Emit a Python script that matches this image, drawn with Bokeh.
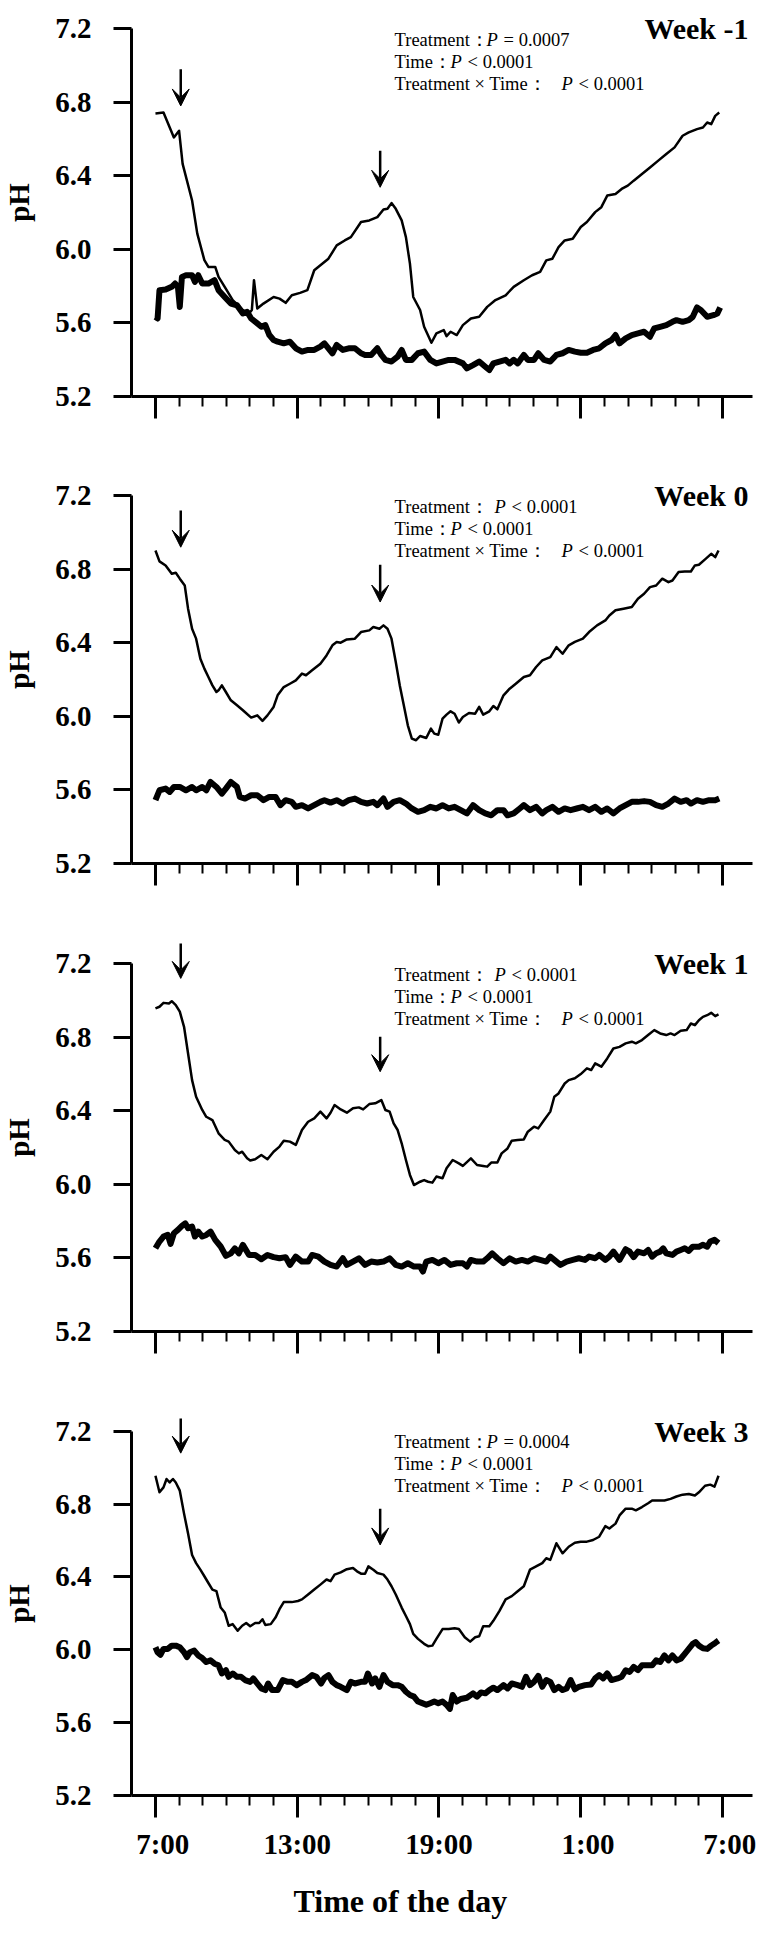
from bokeh.plotting import figure
from bokeh.layouts import column
from bokeh.models import (Range1d, FixedTicker, NumeralTickFormatter, CustomJSTickFormatter,
                          Label, Arrow, VeeHead, Title)
from bokeh.embed import file_html
from bokeh.resources import INLINE

# ---------------- data ----------------
week_names = ["Week -1", "Week 0", "Week 1", "Week 3"]
y_ticks = [5.2, 5.6, 6.0, 6.4, 6.8, 7.2]
x_tick_hours = [0, 6, 12, 18, 24]          # hours after 7:00
x_tick_labels = ["7:00", "13:00", "19:00", "1:00", "7:00"]
x_minor_hours = [h for h in range(25) if h % 6]
x_title = "Time of the day"
y_title = "pH"

# Week -1
wm1_thin_h = [0.00, 0.34, 0.78, 1.00, 1.15, 1.55, 1.77, 2.07, 2.24, 2.53, 2.67, 2.93, 3.27, 3.70, 3.96, 4.08, 4.17, 4.31, 4.57, 5.00,
              5.25, 5.51, 5.77, 6.12, 6.43, 6.72, 6.98, 7.32, 7.67, 8.01, 8.27, 8.70, 9.05, 9.39, 9.65, 9.82, 9.99, 10.17, 10.42, 10.60,
              10.77, 10.91, 11.20, 11.37, 11.68, 11.89, 12.20, 12.32, 12.49, 12.75, 13.01, 13.35, 13.70, 14.04, 14.39, 14.82, 15.16, 15.59, 15.94, 16.28,
              16.54, 16.80, 17.06, 17.32, 17.66, 18.00, 18.26, 18.61, 18.87, 19.12, 19.47, 19.73, 19.99, 20.24, 20.59, 20.93, 21.28, 21.62, 21.97, 22.31,
              22.57, 22.92, 23.17, 23.35, 23.52, 23.69, 23.86]
wm1_thin_ph = [6.738, 6.743, 6.608, 6.644, 6.464, 6.265, 6.085, 5.941, 5.904, 5.904, 5.850, 5.796, 5.724, 5.670, 5.651, 5.670, 5.832, 5.678, 5.705, 5.741,
               5.732, 5.709, 5.750, 5.763, 5.778, 5.886, 5.913, 5.949, 6.021, 6.048, 6.066, 6.148, 6.157, 6.175, 6.216, 6.220, 6.251, 6.220, 6.157, 6.066,
               5.922, 5.741, 5.670, 5.579, 5.492, 5.543, 5.561, 5.528, 5.552, 5.534, 5.588, 5.624, 5.633, 5.687, 5.724, 5.750, 5.796, 5.832, 5.859, 5.877,
               5.940, 5.949, 6.012, 6.048, 6.057, 6.121, 6.148, 6.202, 6.229, 6.292, 6.301, 6.328, 6.346, 6.373, 6.409, 6.445, 6.482, 6.518, 6.554, 6.617,
               6.635, 6.653, 6.662, 6.689, 6.680, 6.725, 6.743]
wm1_thick_h = [0.00, 0.09, 0.17, 0.43, 0.69, 0.83, 0.95, 1.03, 1.12, 1.29, 1.55, 1.67, 1.81, 1.98, 2.24, 2.50, 2.67, 2.93, 3.19, 3.45,
               3.70, 3.88, 4.05, 4.31, 4.48, 4.65, 4.82, 5.00, 5.17, 5.43, 5.69, 5.94, 6.20, 6.46, 6.72, 6.98, 7.15, 7.32, 7.49, 7.67,
               7.93, 8.18, 8.44, 8.70, 8.87, 9.13, 9.39, 9.56, 9.73, 9.99, 10.25, 10.42, 10.60, 10.85, 11.11, 11.37, 11.63, 11.89, 12.15, 12.41,
               12.66, 13.01, 13.18, 13.44, 13.70, 13.96, 14.13, 14.30, 14.56, 14.82, 14.99, 15.16, 15.33, 15.59, 15.76, 16.02, 16.20, 16.45, 16.71, 16.97,
               17.23, 17.49, 17.75, 18.00, 18.26, 18.52, 18.78, 19.04, 19.30, 19.47, 19.64, 19.90, 20.16, 20.42, 20.68, 20.93, 21.11, 21.36, 21.62, 21.88,
               22.05, 22.31, 22.57, 22.74, 22.92, 23.09, 23.35, 23.61, 23.78, 23.90]
wm1_thick_ph = [5.633, 5.624, 5.778, 5.781, 5.796, 5.814, 5.796, 5.687, 5.850, 5.859, 5.859, 5.823, 5.859, 5.814, 5.814, 5.832, 5.778, 5.741, 5.705, 5.696,
                5.651, 5.660, 5.624, 5.597, 5.579, 5.588, 5.534, 5.507, 5.498, 5.489, 5.498, 5.462, 5.444, 5.453, 5.453, 5.471, 5.489, 5.462, 5.435, 5.480,
                5.453, 5.462, 5.462, 5.435, 5.426, 5.426, 5.462, 5.426, 5.399, 5.390, 5.417, 5.453, 5.399, 5.399, 5.435, 5.444, 5.399, 5.380, 5.390, 5.399,
                5.399, 5.380, 5.353, 5.371, 5.390, 5.362, 5.344, 5.380, 5.390, 5.399, 5.380, 5.399, 5.380, 5.426, 5.399, 5.399, 5.435, 5.399, 5.390, 5.426,
                5.435, 5.453, 5.444, 5.438, 5.438, 5.453, 5.462, 5.489, 5.507, 5.534, 5.489, 5.516, 5.534, 5.543, 5.552, 5.525, 5.570, 5.579, 5.588, 5.606,
                5.615, 5.606, 5.615, 5.633, 5.684, 5.669, 5.633, 5.642, 5.651, 5.684]

# Week 0
w0_thin_h = [0.00, 0.17, 0.43, 0.69, 0.86, 1.03, 1.24, 1.38, 1.55, 1.72, 1.90, 2.07, 2.24, 2.41, 2.58, 2.67, 2.81, 2.98, 3.19, 3.45,
             3.70, 4.05, 4.31, 4.53, 4.74, 5.00, 5.17, 5.43, 5.69, 5.94, 6.20, 6.37, 6.63, 6.98, 7.24, 7.49, 7.67, 7.84, 8.10, 8.44,
             8.70, 9.05, 9.22, 9.48, 9.65, 9.82, 9.99, 10.17, 10.34, 10.51, 10.68, 10.85, 11.03, 11.20, 11.46, 11.66, 11.80, 11.97, 12.15, 12.32,
             12.49, 12.66, 12.84, 13.01, 13.27, 13.53, 13.70, 13.87, 14.13, 14.30, 14.47, 14.73, 14.99, 15.25, 15.59, 15.85, 16.11, 16.37, 16.71, 16.97,
             17.23, 17.49, 17.75, 18.09, 18.35, 18.69, 19.04, 19.21, 19.47, 19.81, 20.16, 20.42, 20.68, 20.93, 21.19, 21.45, 21.71, 21.88, 22.14, 22.40,
             22.66, 22.83, 23.00, 23.26, 23.52, 23.69, 23.83]
w0_thin_ph = [6.901, 6.842, 6.820, 6.775, 6.780, 6.748, 6.711, 6.585, 6.476, 6.422, 6.313, 6.259, 6.214, 6.168, 6.132, 6.141, 6.168, 6.132, 6.087, 6.060,
              6.033, 5.993, 6.005, 5.975, 6.005, 6.051, 6.114, 6.159, 6.177, 6.195, 6.232, 6.223, 6.250, 6.286, 6.331, 6.386, 6.404, 6.400, 6.418, 6.422,
              6.458, 6.467, 6.485, 6.476, 6.494, 6.476, 6.422, 6.295, 6.168, 6.060, 5.951, 5.879, 5.870, 5.893, 5.882, 5.933, 5.906, 5.900, 5.987, 6.009,
              6.027, 6.014, 5.966, 5.996, 6.018, 6.014, 6.051, 6.009, 6.027, 6.056, 6.038, 6.114, 6.150, 6.177, 6.214, 6.223, 6.268, 6.304, 6.322, 6.376,
              6.340, 6.386, 6.404, 6.422, 6.458, 6.494, 6.521, 6.548, 6.576, 6.585, 6.594, 6.639, 6.666, 6.702, 6.711, 6.748, 6.729, 6.738, 6.784, 6.787,
              6.787, 6.820, 6.824, 6.853, 6.883, 6.865, 6.901]
w0_thick_h = [0.00, 0.17, 0.43, 0.60, 0.78, 1.03, 1.29, 1.55, 1.72, 1.98, 2.15, 2.33, 2.58, 2.81, 2.98, 3.19, 3.45, 3.57, 3.79, 4.05,
              4.31, 4.57, 4.82, 5.08, 5.29, 5.51, 5.77, 5.94, 6.20, 6.46, 6.72, 6.98, 7.15, 7.41, 7.67, 7.93, 8.18, 8.44, 8.70, 8.96,
              9.22, 9.39, 9.65, 9.82, 10.08, 10.34, 10.60, 10.85, 11.11, 11.37, 11.63, 11.89, 12.15, 12.41, 12.66, 12.92, 13.18, 13.44, 13.70, 13.96,
              14.21, 14.47, 14.73, 14.90, 15.16, 15.42, 15.59, 15.85, 16.11, 16.37, 16.54, 16.80, 17.06, 17.32, 17.57, 17.83, 18.09, 18.35, 18.61, 18.87,
              19.12, 19.38, 19.64, 19.90, 20.16, 20.42, 20.68, 20.93, 21.19, 21.45, 21.71, 21.97, 22.23, 22.48, 22.66, 22.92, 23.17, 23.43, 23.69, 23.86]
w0_thick_ph = [5.544, 5.598, 5.607, 5.589, 5.616, 5.616, 5.598, 5.616, 5.598, 5.616, 5.598, 5.643, 5.616, 5.580, 5.607, 5.643, 5.616, 5.562, 5.553, 5.571,
               5.571, 5.544, 5.562, 5.562, 5.517, 5.544, 5.535, 5.508, 5.517, 5.499, 5.517, 5.535, 5.544, 5.531, 5.544, 5.526, 5.544, 5.553, 5.535, 5.526,
               5.535, 5.517, 5.553, 5.508, 5.535, 5.544, 5.526, 5.499, 5.481, 5.490, 5.508, 5.499, 5.517, 5.499, 5.508, 5.490, 5.472, 5.517, 5.490, 5.472,
               5.462, 5.490, 5.490, 5.462, 5.472, 5.499, 5.517, 5.490, 5.508, 5.472, 5.490, 5.508, 5.481, 5.499, 5.490, 5.499, 5.508, 5.490, 5.508, 5.481,
               5.499, 5.472, 5.499, 5.517, 5.535, 5.535, 5.539, 5.535, 5.517, 5.508, 5.526, 5.553, 5.535, 5.544, 5.526, 5.544, 5.535, 5.544, 5.544, 5.553]

# Week 1
w1_thin_h = [0.00, 0.17, 0.34, 0.57, 0.69, 0.86, 1.03, 1.21, 1.38, 1.55, 1.72, 1.98, 2.15, 2.41, 2.67, 2.93, 3.10, 3.36, 3.53, 3.67,
             3.88, 4.01, 4.22, 4.48, 4.74, 5.00, 5.25, 5.43, 5.69, 5.94, 6.20, 6.46, 6.72, 6.98, 7.24, 7.41, 7.58, 7.84, 8.10, 8.36,
             8.61, 8.79, 9.05, 9.30, 9.56, 9.73, 9.91, 10.08, 10.25, 10.42, 10.60, 10.77, 10.94, 11.20, 11.37, 11.54, 11.72, 11.89, 12.15, 12.32,
             12.58, 12.84, 13.01, 13.35, 13.61, 13.87, 14.04, 14.21, 14.47, 14.65, 14.90, 15.08, 15.33, 15.59, 15.76, 16.02, 16.20, 16.45, 16.71, 16.88,
             17.06, 17.32, 17.49, 17.75, 18.00, 18.26, 18.44, 18.61, 18.87, 19.12, 19.38, 19.64, 19.90, 20.16, 20.33, 20.59, 20.85, 21.11, 21.36, 21.62,
             21.80, 21.97, 22.23, 22.48, 22.66, 22.83, 23.00, 23.17, 23.35, 23.52, 23.69, 23.83]
w1_thin_ph = [6.956, 6.965, 6.986, 6.983, 6.995, 6.974, 6.938, 6.856, 6.711, 6.566, 6.476, 6.404, 6.367, 6.349, 6.277, 6.241, 6.232, 6.186, 6.168, 6.177,
              6.141, 6.129, 6.136, 6.159, 6.136, 6.177, 6.205, 6.237, 6.232, 6.214, 6.295, 6.340, 6.358, 6.395, 6.358, 6.389, 6.431, 6.407, 6.389, 6.413,
              6.418, 6.407, 6.436, 6.440, 6.458, 6.404, 6.395, 6.331, 6.295, 6.223, 6.132, 6.051, 5.996, 6.014, 6.023, 6.014, 6.009, 6.042, 6.033, 6.087,
              6.132, 6.114, 6.100, 6.141, 6.105, 6.100, 6.096, 6.118, 6.118, 6.168, 6.195, 6.237, 6.241, 6.244, 6.286, 6.313, 6.304, 6.349, 6.395, 6.476,
              6.494, 6.548, 6.566, 6.576, 6.599, 6.630, 6.621, 6.657, 6.639, 6.684, 6.738, 6.747, 6.766, 6.775, 6.766, 6.784, 6.811, 6.838, 6.820, 6.811,
              6.820, 6.811, 6.834, 6.838, 6.874, 6.865, 6.892, 6.910, 6.919, 6.932, 6.914, 6.923]
w1_thick_h = [0.00, 0.17, 0.34, 0.52, 0.64, 0.78, 0.95, 1.12, 1.26, 1.38, 1.55, 1.67, 1.81, 1.98, 2.15, 2.33, 2.53, 2.76, 2.98, 3.19,
              3.36, 3.53, 3.70, 3.96, 4.22, 4.48, 4.74, 5.00, 5.25, 5.51, 5.69, 5.94, 6.20, 6.46, 6.63, 6.89, 7.15, 7.41, 7.67, 7.93,
              8.10, 8.36, 8.61, 8.87, 9.13, 9.39, 9.65, 9.91, 10.17, 10.42, 10.68, 10.94, 11.20, 11.32, 11.46, 11.72, 11.97, 12.23, 12.49, 12.75,
              13.01, 13.18, 13.35, 13.61, 13.87, 14.04, 14.25, 14.47, 14.73, 14.99, 15.25, 15.51, 15.76, 16.02, 16.28, 16.54, 16.71, 16.97, 17.14, 17.40,
              17.66, 17.92, 18.18, 18.35, 18.61, 18.78, 19.04, 19.21, 19.38, 19.64, 19.90, 20.07, 20.24, 20.42, 20.68, 20.85, 21.02, 21.19, 21.36, 21.49,
              21.62, 21.88, 22.05, 22.23, 22.40, 22.57, 22.74, 23.00, 23.17, 23.35, 23.48, 23.66, 23.83]
w1_thick_ph = [5.652, 5.689, 5.716, 5.725, 5.676, 5.734, 5.752, 5.774, 5.788, 5.761, 5.770, 5.716, 5.743, 5.716, 5.725, 5.743, 5.698, 5.662, 5.611, 5.625,
               5.652, 5.625, 5.671, 5.616, 5.616, 5.593, 5.616, 5.604, 5.598, 5.604, 5.562, 5.607, 5.580, 5.580, 5.616, 5.607, 5.580, 5.562, 5.553, 5.598,
               5.562, 5.580, 5.598, 5.562, 5.580, 5.575, 5.580, 5.598, 5.562, 5.553, 5.571, 5.553, 5.553, 5.526, 5.580, 5.589, 5.571, 5.589, 5.562, 5.571,
               5.571, 5.553, 5.589, 5.580, 5.580, 5.598, 5.625, 5.598, 5.571, 5.598, 5.580, 5.589, 5.580, 5.598, 5.589, 5.580, 5.607, 5.580, 5.562, 5.580,
               5.589, 5.598, 5.589, 5.607, 5.598, 5.616, 5.589, 5.607, 5.634, 5.589, 5.647, 5.634, 5.604, 5.634, 5.625, 5.643, 5.607, 5.625, 5.634, 5.652,
               5.625, 5.616, 5.634, 5.643, 5.652, 5.638, 5.661, 5.661, 5.671, 5.661, 5.689, 5.698, 5.680]

# Week 3
w3_thin_h = [0.00, 0.17, 0.34, 0.47, 0.60, 0.74, 0.86, 1.03, 1.21, 1.38, 1.55, 1.72, 1.90, 2.07, 2.24, 2.41, 2.58, 2.76, 2.93, 3.10,
             3.27, 3.48, 3.67, 3.84, 4.01, 4.22, 4.39, 4.53, 4.65, 4.88, 5.08, 5.25, 5.43, 5.77, 6.03, 6.20, 6.46, 6.72, 6.98, 7.24,
             7.41, 7.58, 7.84, 8.10, 8.36, 8.53, 8.70, 8.87, 9.01, 9.22, 9.39, 9.65, 9.82, 9.99, 10.17, 10.42, 10.60, 10.77, 10.91, 11.11,
             11.37, 11.54, 11.72, 11.89, 12.15, 12.41, 12.66, 12.84, 13.09, 13.32, 13.53, 13.70, 13.87, 14.13, 14.30, 14.56, 14.82, 15.08, 15.33, 15.59,
             15.85, 16.11, 16.37, 16.54, 16.71, 16.97, 17.23, 17.49, 17.75, 18.00, 18.26, 18.52, 18.78, 19.04, 19.21, 19.47, 19.64, 19.90, 20.16, 20.33,
             20.59, 20.85, 21.02, 21.28, 21.54, 21.80, 22.05, 22.31, 22.57, 22.83, 23.00, 23.26, 23.48, 23.66, 23.83]
w3_thin_ph = [6.956, 6.865, 6.892, 6.938, 6.919, 6.938, 6.919, 6.874, 6.748, 6.639, 6.521, 6.476, 6.440, 6.404, 6.367, 6.331, 6.322, 6.232, 6.205, 6.132,
              6.141, 6.105, 6.132, 6.147, 6.129, 6.147, 6.147, 6.168, 6.136, 6.141, 6.177, 6.223, 6.262, 6.262, 6.268, 6.277, 6.304, 6.331, 6.358, 6.386,
              6.377, 6.413, 6.425, 6.443, 6.449, 6.431, 6.418, 6.418, 6.458, 6.440, 6.422, 6.413, 6.386, 6.349, 6.304, 6.232, 6.186, 6.141, 6.087, 6.060,
              6.033, 6.020, 6.023, 6.060, 6.114, 6.114, 6.118, 6.114, 6.069, 6.045, 6.069, 6.074, 6.129, 6.129, 6.159, 6.214, 6.277, 6.295, 6.322, 6.349,
              6.440, 6.458, 6.476, 6.503, 6.494, 6.585, 6.530, 6.566, 6.588, 6.594, 6.594, 6.603, 6.621, 6.679, 6.666, 6.693, 6.738, 6.775, 6.775, 6.766,
              6.784, 6.805, 6.820, 6.820, 6.820, 6.829, 6.842, 6.852, 6.856, 6.847, 6.865, 6.901, 6.907, 6.896, 6.956]
w3_thick_h = [0.00, 0.09, 0.21, 0.34, 0.52, 0.69, 0.86, 1.03, 1.21, 1.33, 1.46, 1.64, 1.81, 1.98, 2.15, 2.33, 2.50, 2.67, 2.81, 2.98,
              3.10, 3.27, 3.45, 3.62, 3.79, 4.01, 4.14, 4.31, 4.48, 4.65, 4.77, 4.94, 5.17, 5.39, 5.60, 5.77, 5.98, 6.20, 6.37, 6.63,
              6.81, 7.01, 7.15, 7.32, 7.49, 7.67, 7.84, 8.10, 8.27, 8.44, 8.70, 8.87, 8.99, 9.17, 9.30, 9.48, 9.65, 9.82, 10.04, 10.25,
              10.42, 10.60, 10.77, 10.94, 11.11, 11.29, 11.46, 11.63, 11.80, 11.97, 12.15, 12.32, 12.46, 12.58, 12.75, 12.92, 13.18, 13.44, 13.61, 13.78,
              13.96, 14.13, 14.30, 14.47, 14.73, 14.90, 15.08, 15.33, 15.51, 15.68, 15.85, 16.02, 16.20, 16.37, 16.54, 16.71, 16.88, 17.06, 17.23, 17.40,
              17.57, 17.75, 17.92, 18.18, 18.44, 18.61, 18.78, 18.95, 19.12, 19.30, 19.56, 19.73, 19.90, 20.07, 20.24, 20.42, 20.59, 20.85, 21.02, 21.19,
              21.36, 21.54, 21.71, 21.88, 22.05, 22.23, 22.40, 22.57, 22.74, 22.86, 23.00, 23.17, 23.35, 23.52, 23.69, 23.83]
w3_thick_ph = [6.014, 5.987, 5.973, 6.005, 6.005, 6.023, 6.023, 6.014, 5.987, 5.960, 5.987, 5.996, 5.969, 5.955, 5.933, 5.942, 5.924, 5.915, 5.870, 5.888,
               5.852, 5.870, 5.852, 5.852, 5.834, 5.824, 5.843, 5.815, 5.788, 5.779, 5.815, 5.779, 5.779, 5.834, 5.824, 5.824, 5.806, 5.824, 5.834, 5.861,
               5.852, 5.815, 5.846, 5.861, 5.824, 5.806, 5.797, 5.779, 5.824, 5.815, 5.824, 5.824, 5.870, 5.815, 5.843, 5.797, 5.861, 5.824, 5.806, 5.806,
               5.797, 5.770, 5.752, 5.743, 5.716, 5.707, 5.698, 5.707, 5.716, 5.707, 5.716, 5.698, 5.676, 5.752, 5.716, 5.730, 5.737, 5.761, 5.743, 5.766,
               5.761, 5.779, 5.792, 5.779, 5.806, 5.788, 5.815, 5.806, 5.797, 5.852, 5.806, 5.824, 5.857, 5.797, 5.834, 5.824, 5.779, 5.797, 5.779, 5.788,
               5.834, 5.783, 5.797, 5.806, 5.810, 5.843, 5.861, 5.843, 5.870, 5.834, 5.843, 5.852, 5.888, 5.879, 5.906, 5.888, 5.915, 5.915, 5.915, 5.942,
               5.933, 5.969, 5.942, 5.969, 5.942, 5.951, 5.978, 6.005, 6.033, 6.042, 6.023, 6.009, 6.005, 6.023, 6.038, 6.051]

# feeding arrows (hour after 7:00, arrow top pH, arrow tip pH)
arrow_hours = [1.07, 9.51]
wm1_arrow_top = [6.978, 6.536]
wm1_arrow_tip = [6.779, 6.337]
w0_arrow_top = [7.119, 6.824]
w0_arrow_tip = [6.919, 6.621]
w1_arrow_top = [7.32, 6.802]
w1_arrow_tip = [7.119, 6.612]
w3_arrow_top = [7.27, 6.775]
w3_arrow_tip = [7.08, 6.576]

# statistics text: (label before P, relation after P)
wm1_stats = [("Treatment：", "= 0.0007"), ("Time：", "< 0.0001"), ("Treatment × Time：", "< 0.0001")]
w0_stats = [("Treatment： ", "< 0.0001"), ("Time：", "< 0.0001"), ("Treatment × Time：", "< 0.0001")]
w1_stats = [("Treatment： ", "< 0.0001"), ("Time：", "< 0.0001"), ("Treatment × Time：", "< 0.0001")]
w3_stats = [("Treatment：", "= 0.0004"), ("Time：", "< 0.0001"), ("Treatment × Time：", "< 0.0001")]

panels = [
    (week_names[0], wm1_thin_h, wm1_thin_ph, wm1_thick_h, wm1_thick_ph, wm1_arrow_top, wm1_arrow_tip, wm1_stats),
    (week_names[1], w0_thin_h, w0_thin_ph, w0_thick_h, w0_thick_ph, w0_arrow_top, w0_arrow_tip, w0_stats),
    (week_names[2], w1_thin_h, w1_thin_ph, w1_thick_h, w1_thick_ph, w1_arrow_top, w1_arrow_tip, w1_stats),
    (week_names[3], w3_thin_h, w3_thin_ph, w3_thick_h, w3_thick_ph, w3_arrow_top, w3_arrow_tip, w3_stats),
]

# ---------------- layout / style ----------------
FONT = "Liberation Serif"
PX_PER_PH = 184.0
X_START, X_END = -1.014, 25.268
Y_START, Y_TOP = 5.2, 7.2 + 20 / PX_PER_PH
fig_heights = [475, 468, 468, 525]
fig_tops = [8, 0, 0, 0]
fig_bottoms = [79, 80, 80, 137]
stat_x = 10.12
stat_line_px = [11, 33, 55]
p_offsets = {"Treatment：": 92, "Treatment： ": 100, "Time：": 56, "Treatment × Time：": 167}
FIG = "\u2007"  # figure space: hour labels are right-aligned like " 7:00"

figs = []
for i, (wname, th, tp, kh, kp, atop, atip, stats) in enumerate(panels):
    last = (i == len(panels) - 1)
    assert len(th) == len(tp) and len(kh) == len(kp)
    p = figure(width=760, height=fig_heights[i],
               x_range=Range1d(X_START, X_END), y_range=Range1d(Y_START, Y_TOP),
               output_backend="svg", toolbar_location=None,
               min_border_left=130, min_border_right=8, min_border_top=fig_tops[i],
               min_border_bottom=fig_bottoms[i],
               background_fill_color="white", border_fill_color="white")
    p.outline_line_color = None
    p.xgrid.visible = False
    p.ygrid.visible = False

    # y axis
    yax = p.yaxis[0]
    yax.bounds = (5.2, 7.2)
    yax.ticker = FixedTicker(ticks=y_ticks)
    yax.formatter = NumeralTickFormatter(format="0.0")
    yax.axis_line_width = 3
    yax.major_tick_line_width = 3
    yax.major_tick_out = 18
    yax.major_tick_in = 0
    yax.minor_tick_line_color = None
    yax.major_label_standoff = 22
    yax.major_label_text_font = FONT
    yax.major_label_text_font_style = "bold"
    yax.major_label_text_font_size = "29px"
    yax.major_label_text_color = "black"
    yax.axis_label = y_title
    yax.axis_label_text_font = FONT
    yax.axis_label_text_font_style = "bold"
    yax.axis_label_text_font_size = "29px"
    yax.axis_label_text_color = "black"
    yax.axis_label_standoff = 17

    # x axis
    xax = p.xaxis[0]
    xax.ticker = FixedTicker(ticks=x_tick_hours, minor_ticks=x_minor_hours)
    xax.axis_line_width = 3
    xax.major_tick_line_width = 3
    xax.minor_tick_line_width = 2
    xax.major_tick_out = 22
    xax.major_tick_in = 0
    xax.minor_tick_out = 10
    xax.minor_tick_in = 0
    xax.major_label_text_font = FONT
    xax.major_label_text_font_style = "bold"
    xax.major_label_text_font_size = "29px"
    xax.major_label_text_color = "black"
    if last:
        xax.major_label_overrides = {h: lab.rjust(5, FIG) for h, lab in zip(x_tick_hours, x_tick_labels)}
        xax.major_label_standoff = 10
        # axis title placed like the original (a little left of the frame centre)
        p.add_layout(Title(text=x_title, align="left", offset=162, standoff=36,
                           text_font=FONT, text_font_style="bold", text_font_size="32px",
                           text_color="black"), "below")
    else:
        xax.formatter = CustomJSTickFormatter(code="return ''")
        xax.major_label_standoff = 0

    # data lines
    p.line(th, tp, line_width=2.5, line_color="black", line_join="round")
    p.line(kh, kp, line_width=6, line_color="black", line_join="round")

    # arrows
    for ah, a0, a1 in zip(arrow_hours, atop, atip):
        p.add_layout(Arrow(end=VeeHead(size=17, fill_color="black", line_color="black", line_width=1),
                           x_start=ah, y_start=a0, x_end=ah, y_end=a1,
                           line_width=2.5, line_color="black"))

    # week label
    p.add_layout(Label(x=25.10, y=7.2, text=wname, text_align="right", text_baseline="alphabetic",
                       text_font=FONT, text_font_style="bold", text_font_size="30px", text_color="black"))

    # statistics
    for (pre, post), lp in zip(stats, stat_line_px):
        yy = 7.2 - lp / PX_PER_PH
        poff = p_offsets[pre]
        p.add_layout(Label(x=stat_x, y=yy, text=pre.rstrip(), text_baseline="alphabetic",
                           text_font=FONT, text_font_size="18.5px", text_color="black"))
        p.add_layout(Label(x=stat_x, y=yy, x_offset=poff, text="P", text_baseline="alphabetic",
                           text_font=FONT, text_font_style="italic", text_font_size="18.5px", text_color="black"))
        p.add_layout(Label(x=stat_x, y=yy, x_offset=poff + 17, text=post, text_baseline="alphabetic",
                           text_font=FONT, text_font_size="18.5px", text_color="black"))
    figs.append(p)

layout = column(*figs, spacing=0)
open("out.html", "w").write(file_html(layout, INLINE))
